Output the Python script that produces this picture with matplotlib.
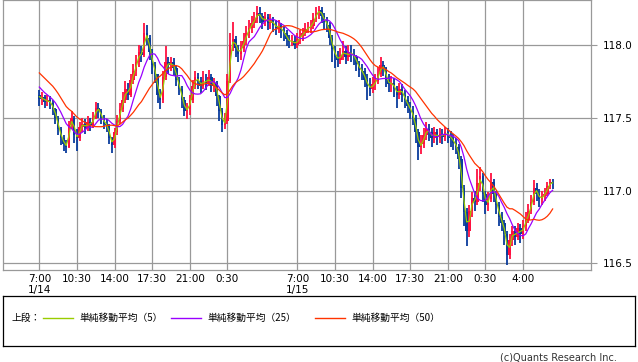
import matplotlib
matplotlib.use('Agg')
import matplotlib.pyplot as plt
import numpy as np
import pandas as pd

# 15-minute candles, 7:00 1/14 -> 6:45 1/16 (USD/JPY style quotes)
# a few closes before 7:00 so the averages already have values at the left edge
pre_close = [117.95, 117.93, 117.92, 117.90, 117.88, 117.90, 117.87, 117.86,
             117.84, 117.80, 117.76, 117.74, 117.72, 117.70, 117.68, 117.66]

close = [
    117.63, 117.64, 117.61, 117.62, 117.60, 117.56, 117.50, 117.42,
    117.36, 117.32, 117.30, 117.45, 117.50, 117.38, 117.36, 117.44,
    117.46, 117.43, 117.47, 117.45, 117.50, 117.57, 117.55, 117.50,
    117.46, 117.45, 117.36, 117.31, 117.40, 117.48, 117.56, 117.62,
    117.70, 117.66, 117.76, 117.82, 117.88, 117.95, 117.93, 118.08,
    118.05, 117.95, 117.86, 117.80, 117.66, 117.62, 117.78, 117.88,
    117.86, 117.88, 117.84, 117.76, 117.70, 117.62, 117.55, 117.56,
    117.62, 117.72, 117.78, 117.75, 117.72, 117.76, 117.74, 117.78,
    117.72, 117.74, 117.65, 117.55, 117.45, 117.48, 117.75, 118.00,
    118.04, 117.98, 117.94, 117.98, 118.03, 118.08, 118.12, 118.15,
    118.18, 118.22, 118.20, 118.16, 118.19, 118.15, 118.17, 118.14,
    118.12, 118.13, 118.10, 118.08, 118.04, 118.02, 118.03, 118.00,
    118.04, 118.06, 118.08, 118.11, 118.12, 118.13, 118.18, 118.22,
    118.24, 118.20, 118.16, 118.14, 118.05, 117.97, 117.92, 117.90,
    117.93, 117.96, 117.92, 117.95, 117.94, 117.92, 117.87, 117.83,
    117.82, 117.76, 117.72, 117.70, 117.73, 117.75, 117.80, 117.86,
    117.84, 117.76, 117.73, 117.74, 117.70, 117.66, 117.70, 117.66,
    117.62, 117.58, 117.55, 117.50, 117.40, 117.30, 117.32, 117.38,
    117.42, 117.40, 117.36, 117.40, 117.36, 117.39, 117.37, 117.40,
    117.38, 117.36, 117.33, 117.30, 117.22, 117.02, 116.85, 116.72,
    116.86, 116.95, 116.92, 117.05, 117.10, 116.98, 116.90, 116.94,
    117.06, 116.98, 116.90, 116.82, 116.78, 116.70, 116.56, 116.66,
    116.72, 116.68, 116.74, 116.70, 116.76, 116.80, 116.86, 116.92,
    117.02, 116.98, 116.94, 116.96, 116.98, 117.03, 117.06, 117.05,
]

high = [
    117.69, 117.68, 117.66, 117.66, 117.65, 117.62, 117.57, 117.51,
    117.44, 117.38, 117.35, 117.48, 117.55, 117.51, 117.42, 117.47,
    117.50, 117.49, 117.51, 117.50, 117.54, 117.61, 117.60, 117.56,
    117.52, 117.49, 117.46, 117.37, 117.43, 117.52, 117.60, 117.68,
    117.75, 117.74, 117.80, 117.87, 117.93, 118.00, 117.99, 118.15,
    118.14, 118.07, 117.97, 117.88, 117.80, 117.70, 117.82, 117.99,
    117.92, 117.92, 117.91, 117.86, 117.78, 117.72, 117.64, 117.60,
    117.66, 117.76, 117.82, 117.81, 117.78, 117.82, 117.80, 117.83,
    117.80, 117.77, 117.75, 117.66, 117.57, 117.53, 117.80, 118.08,
    118.16, 118.06, 118.00, 118.03, 118.08, 118.13, 118.17, 118.20,
    118.23, 118.27, 118.26, 118.22, 118.23, 118.21, 118.21, 118.19,
    118.17, 118.17, 118.15, 118.13, 118.10, 118.07, 118.07, 118.06,
    118.08, 118.10, 118.12, 118.15, 118.16, 118.17, 118.22, 118.26,
    118.27, 118.26, 118.22, 118.19, 118.16, 118.07, 117.99, 117.96,
    117.98, 118.03, 117.99, 118.00, 118.00, 117.97, 117.93, 117.89,
    117.87, 117.84, 117.80, 117.77, 117.78, 117.80, 117.85, 117.92,
    117.89, 117.85, 117.80, 117.79, 117.77, 117.72, 117.74, 117.73,
    117.69, 117.65, 117.61, 117.58, 117.52, 117.42, 117.38, 117.43,
    117.47, 117.46, 117.43, 117.44, 117.42, 117.43, 117.42, 117.44,
    117.43, 117.41, 117.39, 117.36, 117.32, 117.24, 117.04, 116.88,
    116.90, 116.99, 117.00, 117.15, 117.16, 117.12, 117.00, 116.99,
    117.12, 117.08, 117.00, 116.92, 116.85, 116.80, 116.72, 116.70,
    116.76, 116.76, 116.78, 116.77, 116.80, 116.85, 116.91, 116.97,
    117.07, 117.05, 117.01, 117.00, 117.02, 117.06, 117.08, 117.08,
]

low = [
    117.58, 117.59, 117.57, 117.58, 117.56, 117.52, 117.46, 117.38,
    117.31, 117.27, 117.26, 117.29, 117.42, 117.33, 117.27, 117.34,
    117.40, 117.39, 117.41, 117.41, 117.43, 117.49, 117.50, 117.46,
    117.42, 117.40, 117.32, 117.26, 117.29, 117.38, 117.46, 117.54,
    117.60, 117.62, 117.64, 117.73, 117.79, 117.85, 117.88, 117.92,
    118.00, 117.90, 117.80, 117.74, 117.60, 117.56, 117.60, 117.76,
    117.80, 117.82, 117.79, 117.72, 117.66, 117.57, 117.51, 117.49,
    117.52, 117.60, 117.70, 117.70, 117.67, 117.70, 117.69, 117.72,
    117.68, 117.68, 117.58, 117.48, 117.40, 117.42, 117.46, 117.74,
    117.96, 117.92, 117.88, 117.90, 117.95, 118.00, 118.05, 118.08,
    118.12, 118.15, 118.15, 118.11, 118.13, 118.10, 118.11, 118.09,
    118.07, 118.08, 118.05, 118.03, 117.99, 117.98, 117.99, 117.97,
    117.98, 118.01, 118.03, 118.06, 118.08, 118.08, 118.11, 118.16,
    118.18, 118.15, 118.11, 118.09, 118.00, 117.88, 117.84, 117.85,
    117.87, 117.90, 117.87, 117.89, 117.88, 117.86, 117.82, 117.78,
    117.76, 117.71, 117.62, 117.65, 117.67, 117.69, 117.73, 117.78,
    117.79, 117.71, 117.68, 117.68, 117.64, 117.57, 117.63, 117.61,
    117.57, 117.53, 117.49, 117.45, 117.33, 117.21, 117.25, 117.29,
    117.35, 117.34, 117.30, 117.33, 117.31, 117.33, 117.32, 117.34,
    117.33, 117.30, 117.28, 117.25, 117.15, 116.95, 116.76, 116.62,
    116.68, 116.82, 116.86, 116.90, 117.00, 116.92, 116.84, 116.86,
    116.92, 116.92, 116.84, 116.76, 116.72, 116.63, 116.49, 116.53,
    116.62, 116.63, 116.66, 116.64, 116.67, 116.72, 116.78, 116.84,
    116.90, 116.93, 116.89, 116.90, 116.93, 116.96, 117.01, 117.01,
]

# hours after 7:00 on 1/14
x_ticks = [0, 3.5, 7, 10.5, 14, 17.5, 24, 27.5, 31, 34.5, 38, 41.5, 45]
x_labels = ['7:00\n1/14', '10:30', '14:00', '17:30', '21:00', '0:30',
            '7:00\n1/15', '10:30', '14:00', '17:30', '21:00', '0:30', '4:00']
y_ticks = [116.5, 117.0, 117.5, 118.0]

# 5 / 25 / 50 five-minute bars ~ 2 / 8 / 17 quarter-hour bars
ma_windows = [2, 8, 17]
ma_labels = ['単純移動平均（5）', '単純移動平均（25）', '単純移動平均（50）']
ma_colors = ['#99cc00', '#9900ff', '#ff3300']

UP = '#ff1040'
DOWN = '#0a3c9c'
GRID = '#999999'
JP = ['Noto Sans CJK JP', 'DejaVu Sans']

c = np.array(close)
o = np.array([pre_close[-1]] + close[:-1])
t = np.arange(len(c)) * 0.25
hi = np.maximum(np.array(high), np.maximum(o, c))
lo = np.minimum(np.array(low), np.minimum(o, c))
colors = np.where(c >= o, UP, DOWN)

W, H = 638, 362
fig = plt.figure(figsize=(W / 100, H / 100), dpi=100)
ax = fig.add_axes([3.3 / W, (H - 270) / H, 587.4 / W, 270 / H])

ax.vlines(t, lo, hi, colors=colors, linewidth=1.3, zorder=2)
body = np.maximum(np.abs(c - o), 0.01)
ax.bar(t, body, bottom=np.minimum(o, c), width=0.23, color=colors,
       linewidth=0, zorder=2)

series = pd.Series(pre_close + close)
for n, col in zip(ma_windows, ma_colors):
    ma = series.rolling(n).mean().iloc[len(pre_close):].values
    ax.plot(t, ma, color=col, linewidth=0.9, zorder=3)

ax.set_xlim(-3.35, 51.29)
ax.set_ylim(116.455, 118.309)
ax.set_xticks(x_ticks)
ax.set_xticklabels(x_labels, linespacing=1.1)
ax.set_yticks(y_ticks)
ax.set_yticklabels(['%.1f' % v for v in y_ticks])
ax.yaxis.tick_right()
ax.tick_params(axis='y', length=4, width=0.8, color=GRID, pad=5, labelsize=7.5)
ax.tick_params(axis='x', length=0, pad=3, labelsize=7.5)
ax.grid(True, color=GRID, linewidth=0.9)
ax.set_axisbelow(True)
for s in ax.spines.values():
    s.set_color(GRID)
    s.set_linewidth(0.9)

# legend box under the chart
lax = fig.add_axes([3 / W, (H - 346) / H, 632 / W, 50 / H])
lax.set_xlim(0, 632)
lax.set_ylim(50, 0)
lax.set_xticks([])
lax.set_yticks([])
for s in lax.spines.values():
    s.set_color('black')
    s.set_linewidth(0.9)
lax.text(8, 22, '上段：', va='center', fontsize=7, family=JP)
for x0, lab, col in zip([40, 168, 312], ma_labels, ma_colors):
    lax.plot([x0, x0 + 30], [22, 22], color=col, linewidth=1)
    lax.text(x0 + 36, 22, lab, va='center', fontsize=7, family=JP)

fig.text(617 / W, 1 - 357 / H, '(c)Quants Research Inc.', ha='right',
         va='center', fontsize=7, color='#333333')

fig.savefig('out.png', dpi=100)
